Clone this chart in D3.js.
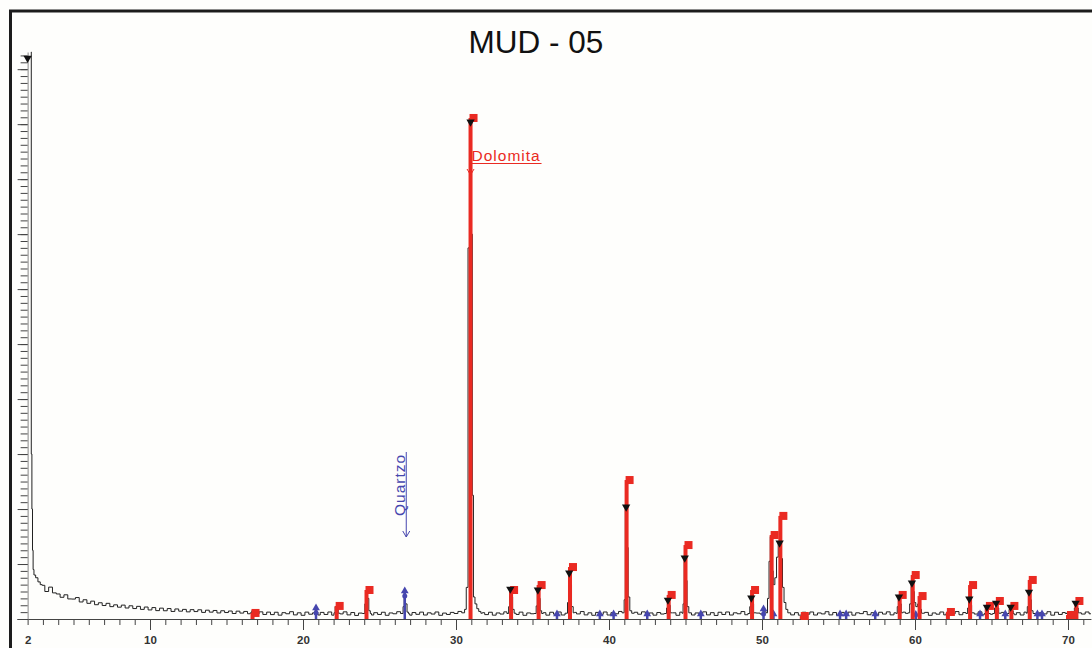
<!DOCTYPE html>
<html>
<head>
<meta charset="utf-8">
<title>MUD - 05</title>
<script src="https://cdn.jsdelivr.net/npm/d3@7"></script>
<style>
  html, body { margin: 0; padding: 0; background: #fefefc; overflow: hidden; }
  #chart { width: 1092px; height: 648px; }
  text { font-family: "Liberation Sans", Arial, sans-serif; }
</style>
</head>
<body>
<div id="chart"></div>
<script>
// Scan background (counts), read every 0.25 deg 2theta from 3.0 to 71.5
var scanStart = 3;
var scanStep = 0.25;
var background = [
  245, 200, 232, 190, 182, 158, 176, 146, 145, 156, 124, 140, 114, 130, 104, 118, 98, 114, 90, 103,
  86, 101, 80, 96, 76, 92, 70, 87, 66, 83, 61, 79, 60, 76, 55, 73, 57, 70, 52, 68,
  54, 67, 48, 64, 50, 62, 44, 60, 47, 58, 40, 57, 43, 55, 38, 54, 36, 52, 33, 50,
  32, 49, 28, 46, 38, 53, 30, 45, 27, 50, 35, 42, 29, 48, 33, 51, 28, 44, 37, 52,
  30, 47, 26, 43, 35, 52, 29, 46, 33, 49, 27, 44, 38, 53, 30, 41, 28, 47, 34, 50,
  29, 45, 36, 51, 27, 43, 33, 48, 40, 55, 58, 62, 64, 57, 50, 46, 32, 49, 28, 44,
  36, 52, 29, 47, 33, 50, 27, 44, 38, 53, 30, 46, 28, 49, 35, 51, 29, 45, 32, 48,
  37, 54, 30, 45, 27, 48, 34, 51, 29, 46, 38, 55, 31, 43, 26, 49, 35, 52, 30, 44,
  28, 47, 36, 53, 31, 45, 27, 50, 34, 48, 29, 44, 37, 52, 30, 46, 26, 49, 33, 51,
  29, 45, 38, 54, 31, 47, 27, 43, 36, 52, 42, 50, 55, 48, 41, 53, 30, 46, 28, 49,
  35, 51, 29, 44, 37, 53, 30, 47, 26, 48, 34, 50, 28, 45, 39, 54, 31, 46, 27, 49,
  36, 52, 30, 45, 33, 50, 41, 47, 29, 53, 37, 48, 27, 44, 35, 51, 30, 46, 38, 54,
  31, 47, 28, 49, 36, 52, 30, 45, 34, 51, 27, 48, 39, 53, 31, 46, 29, 50, 35, 52,
  30, 46, 37, 53, 28, 49, 33, 47, 41, 55, 30, 45, 36, 51, 38
];

// Low angle tail of the scan [2theta, counts]
var lowAngle = [
  [2.22, 4125], [2.26, 1200], [2.3, 800], [2.34, 500], [2.38, 360],
  [2.45, 320], [2.6, 300], [2.75, 270], [2.9, 250]
];

// Measured reflections [2theta, counts]
var peakProfiles = [
  [[16.6, 45], [16.7, 60], [16.8, 44]],
  [[20.75, 45], [20.85, 80], [20.95, 50]],
  [[22.05, 45], [22.15, 90], [22.25, 70], [22.35, 42]],
  [[24.0, 40], [24.08, 110], [24.15, 205], [24.25, 150], [24.35, 60], [24.45, 40]],
  [[26.5, 40], [26.58, 90], [26.65, 200], [26.75, 110], [26.85, 50], [26.95, 38]],
  [[30.5, 45], [30.62, 70], [30.72, 230], [30.85, 2700], [30.95, 3640], [31.03, 2800],
   [31.1, 900], [31.18, 160], [31.3, 110], [31.42, 75], [31.55, 55], [31.7, 42]],
  [[33.4, 40], [33.48, 90], [33.55, 215], [33.65, 160], [33.75, 70], [33.85, 42]],
  [[35.2, 40], [35.28, 95], [35.35, 210], [35.45, 150], [35.55, 60], [35.65, 40]],
  [[37.25, 42], [37.33, 120], [37.4, 335], [37.5, 250], [37.6, 90], [37.72, 45]],
  [[40.95, 45], [41.03, 140], [41.1, 815], [41.2, 520], [41.3, 160], [41.42, 60], [41.55, 42]],
  [[43.72, 40], [43.8, 80], [43.86, 138], [43.95, 100], [44.05, 45]],
  [[44.8, 42], [44.88, 110], [44.95, 445], [45.05, 280], [45.15, 90], [45.28, 45]],
  [[49.15, 40], [49.25, 90], [49.3, 150], [49.4, 110], [49.5, 45]],
  [[50.3, 45], [50.42, 150], [50.5, 420], [50.58, 600], [50.68, 350], [50.78, 250],
   [50.9, 300], [51.0, 450], [51.12, 555], [51.22, 460], [51.3, 440], [51.38, 230],
   [51.5, 120], [51.62, 70], [51.75, 45]],
  [[58.8, 40], [58.88, 90], [58.95, 160], [59.05, 110], [59.15, 45]],
  [[59.6, 45], [59.7, 110], [59.8, 262], [59.9, 200], [60.0, 120], [60.1, 90],
   [60.25, 110], [60.35, 70], [60.5, 42]],
  [[62.05, 40], [62.15, 55], [62.25, 40]],
  [[63.4, 40], [63.48, 80], [63.55, 146], [63.65, 100], [63.75, 45]],
  [[64.55, 40], [64.65, 87], [64.75, 65], [64.85, 40]],
  [[65.15, 40], [65.25, 80], [65.32, 116], [65.42, 80], [65.52, 42]],
  [[66.1, 40], [66.2, 70], [66.27, 87], [66.37, 60], [66.47, 40]],
  [[67.3, 42], [67.38, 90], [67.45, 196], [67.55, 140], [67.65, 60], [67.78, 40]],
  [[69.9, 40], [70.0, 50], [70.1, 40]],
  [[70.38, 40], [70.45, 80], [70.52, 116], [70.62, 80], [70.72, 45]]
];

// Dolomite reference lines [2theta, counts]
var dolomiteLines = [
  [16.7, 44], [22.2, 95], [24.15, 211], [30.95, 3645], [33.6, 211], [35.4, 247],
  [37.45, 378], [41.15, 1011], [43.9, 175], [45.0, 538], [49.35, 211], [50.63, 611],
  [51.2, 750], [52.6, 22], [59.0, 175], [59.85, 320], [60.3, 167], [62.15, 51],
  [63.6, 247], [64.7, 95], [65.35, 131], [66.3, 95], [67.5, 284], [70.0, 29], [70.55, 131]
];

// Peak search marks [2theta, counts]
var peakMarks = [
  [2.0, 4080], [30.95, 3616], [33.55, 218], [35.35, 211], [37.4, 335], [41.12, 815],
  [43.85, 138], [44.95, 444], [49.3, 153], [51.15, 553], [58.95, 160], [59.8, 262],
  [63.55, 146], [64.7, 87], [65.3, 116], [66.25, 87], [67.45, 196], [70.5, 116]
];

// Quartz reference lines [2theta, counts]
var quartzLines = [
  [20.85, 87], [26.65, 211], [36.6, 44], [39.4, 44], [40.3, 44], [42.5, 44], [46.0, 44],
  [50.1, 80], [50.75, 44], [55.1, 44], [55.5, 44], [57.4, 44], [60.05, 40], [64.25, 44],
  [65.9, 44], [68.0, 44], [68.3, 44]
];

var xTickLabels = [2, 10, 20, 30, 40, 50, 60, 70];

var width = 1092;
var height = 648;
var red = '#ea2a22';
var blue = '#4646ae';

var svg = d3.select('#chart').append('svg')
  .attr('width', width)
  .attr('height', height);

svg.append('rect')
  .attr('width', width)
  .attr('height', height)
  .attr('fill', '#fefefc');

// Frame round the page
svg.append('rect')
  .attr('x', 10.5)
  .attr('y', 11)
  .attr('width', 1200)
  .attr('height', 800)
  .attr('fill', 'none')
  .attr('stroke', '#1c1c1c')
  .attr('stroke-width', 3);

// Title
svg.append('text')
  .attr('x', 536)
  .attr('y', 53)
  .attr('text-anchor', 'middle')
  .attr('font-size', 31.5)
  .attr('fill', '#111')
  .text('MUD - 05');

// Scales
var x = d3.scaleLinear().domain([1.3, 71.5]).range([16.9, 1090.95]);
var y = d3.scaleLinear().domain([0, 4125]).range([619, 52]);

function drawAxis(axis, transform, hideDomain) {
  var g = svg.append('g').attr('transform', transform).call(axis);
  g.selectAll('line, path').attr('stroke', '#444');
  if (hideDomain) {
    g.select('.domain').remove();
  }
  return g;
}

// X axis: degree ticks, decade ticks and labels
var xMinor = d3.axisBottom(x)
  .tickValues(d3.range(2, 72))
  .tickSizeInner(6)
  .tickSizeOuter(0)
  .tickFormat('');
var xMajor = d3.axisBottom(x)
  .tickValues(d3.range(10, 80, 10))
  .tickSizeInner(11)
  .tickSizeOuter(0)
  .tickFormat('');
var xLabels = d3.axisBottom(x)
  .tickValues(xTickLabels)
  .tickSize(0)
  .tickPadding(17)
  .tickFormat(d3.format('d'));

drawAxis(xMinor, 'translate(0,' + y(0) + ')', false);
drawAxis(xMajor, 'translate(0,' + y(0) + ')', true);
var gl = drawAxis(xLabels, 'translate(0,' + y(0) + ')', true);
gl.selectAll('text')
  .attr('font-size', 11.5)
  .attr('font-weight', 'bold')
  .attr('font-family', '"Liberation Sans", Arial, sans-serif')
  .attr('fill', '#333');

// Y axis: unlabelled ruler
var yMinor = d3.axisLeft(y)
  .tickValues(d3.range(0, 4101, 50))
  .tickSizeInner(7)
  .tickSizeOuter(0)
  .tickFormat('');
var yMajor = d3.axisLeft(y)
  .tickValues(d3.range(0, 4101, 400))
  .tickSizeInner(10)
  .tickSizeOuter(0)
  .tickFormat('');
var gy = drawAxis(yMinor, 'translate(' + x(2) + ',0)', false);
gy.select('.domain').attr('stroke', '#888');
drawAxis(yMajor, 'translate(' + x(2) + ',0)', true);

// Merge the background with the measured reflections
var windows = peakProfiles.map(function (p) {
  return [p[0][0], p[p.length - 1][0]];
});
var profile = lowAngle.slice();
background.forEach(function (c, i) {
  var t = scanStart + i * scanStep;
  var inside = windows.some(function (w) {
    return t >= w[0] && t <= w[1];
  });
  if (!inside) {
    profile.push([t, c]);
  }
});
peakProfiles.forEach(function (p) {
  profile = profile.concat(p);
});
profile.sort(function (a, b) {
  return a[0] - b[0];
});

var line = d3.line()
  .x(function (d) { return x(d[0]); })
  .y(function (d) { return y(d[1]); })
  .curve(d3.curveStep);

svg.append('path')
  .datum(profile)
  .attr('d', line)
  .attr('fill', 'none')
  .attr('stroke', '#222')
  .attr('stroke-width', 1);

// Quartz lines and marks
svg.append('g').selectAll('line')
  .data(quartzLines)
  .enter().append('line')
  .attr('x1', function (d) { return x(d[0]); })
  .attr('x2', function (d) { return x(d[0]); })
  .attr('y1', y(0))
  .attr('y2', function (d) { return y(d[1]); })
  .attr('stroke', blue)
  .attr('stroke-width', 2.5);
svg.append('g').selectAll('path')
  .data(quartzLines)
  .enter().append('path')
  .attr('transform', function (d) {
    return 'translate(' + x(d[0]) + ',' + (y(d[1]) + 1) + ')';
  })
  .attr('d', d3.symbol().type(d3.symbolTriangle).size(26))
  .attr('fill', blue);
svg.append('g').selectAll('circle')
  .data(quartzLines.filter(function (d) { return d[1] > 60; }))
  .enter().append('circle')
  .attr('cx', function (d) { return x(d[0]); })
  .attr('cy', function (d) { return y(d[1]) + 6; })
  .attr('r', 2.5)
  .attr('fill', blue);

// Dolomite reference bars and squares
svg.append('g').selectAll('rect')
  .data(dolomiteLines)
  .enter().append('rect')
  .attr('x', function (d) { return x(d[0]) - 2; })
  .attr('y', function (d) { return y(d[1]); })
  .attr('width', 4)
  .attr('height', function (d) { return y(0) - y(d[1]); })
  .attr('fill', red);
svg.append('g').selectAll('rect')
  .data(dolomiteLines)
  .enter().append('rect')
  .attr('x', function (d) { return x(d[0]) - 1; })
  .attr('y', function (d) { return y(d[1]) - 4; })
  .attr('width', 8)
  .attr('height', 8)
  .attr('fill', red);

// Peak search marks
svg.append('g').selectAll('path')
  .data(peakMarks)
  .enter().append('path')
  .attr('transform', function (d) {
    return 'translate(' + x(d[0]) + ',' + y(d[1]) + ') rotate(180)';
  })
  .attr('d', d3.symbol().type(d3.symbolTriangle).size(30))
  .attr('fill', '#111');

// Phase labels with arrows
function arrowHead(g, px, py, color) {
  g.append('path')
    .attr('d', 'M' + (px - 3.5) + ',' + (py - 6) + 'L' + px + ',' + py + 'L' + (px + 3.5) + ',' + (py - 6))
    .attr('fill', 'none')
    .attr('stroke', color)
    .attr('stroke-width', 1);
}

var dolo = svg.append('g');
var dx = x(30.95);
dolo.append('text')
  .attr('x', dx + 1)
  .attr('y', 161)
  .attr('font-size', 15.5)
  .attr('letter-spacing', 1)
  .attr('fill', red)
  .text('Dolomita');
dolo.append('path')
  .attr('d', 'M' + (dx + 71) + ',163.5H' + dx + 'V175')
  .attr('fill', 'none')
  .attr('stroke', red)
  .attr('stroke-width', 1);
arrowHead(dolo, dx, 175, red);

var quar = svg.append('g');
var qx = x(26.65) + 1.5;
quar.append('text')
  .attr('transform', 'translate(' + (qx - 1.5) + ',516) rotate(-90)')
  .attr('font-size', 15.5)
  .attr('letter-spacing', 1)
  .attr('fill', blue)
  .text('Quartzo');
quar.append('path')
  .attr('d', 'M' + qx + ',452V537')
  .attr('fill', 'none')
  .attr('stroke', blue)
  .attr('stroke-width', 1);
arrowHead(quar, qx, 537, blue);
</script>
</body>
</html>
